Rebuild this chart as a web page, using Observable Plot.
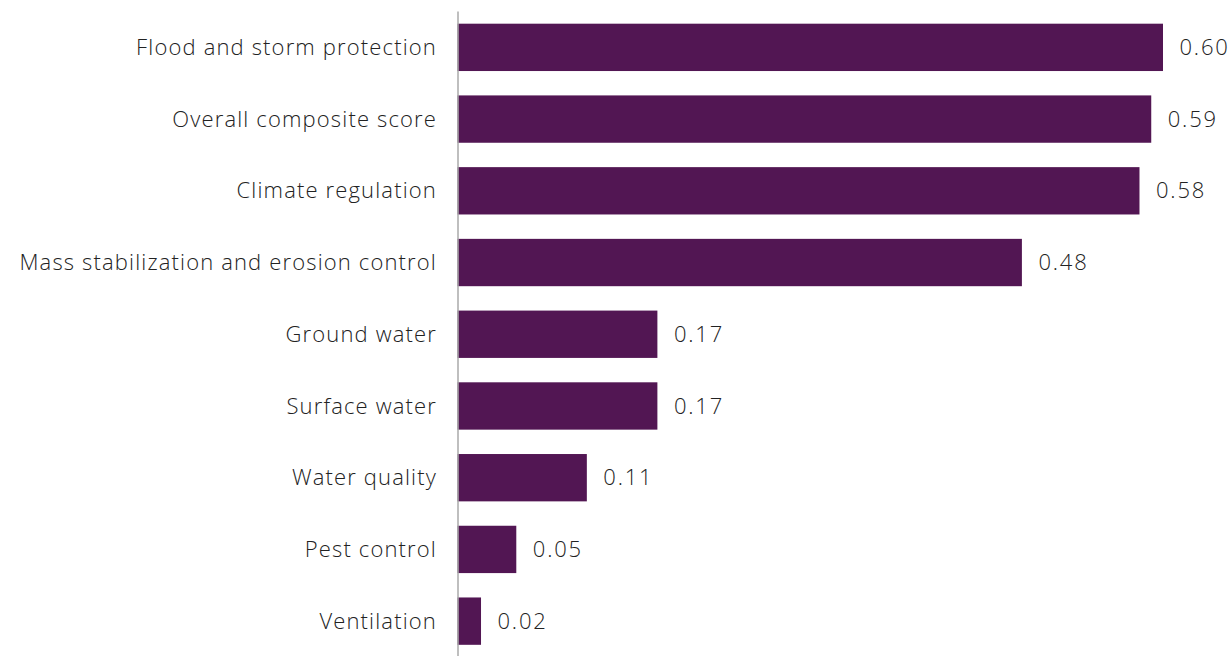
<!DOCTYPE html>
<html>
<head>
<meta charset="utf-8">
<script src="https://cdn.jsdelivr.net/npm/d3@7"></script>
<script src="https://cdn.jsdelivr.net/npm/@observablehq/plot@0.6"></script>
<style>
  html, body { margin: 0; padding: 0; background: #fff; }
  svg { display: block; }
  svg text { letter-spacing: 1.15px; }
  svg text.vals { letter-spacing: 1.8px; }
</style>
</head>
<body>
<div id="chart"></div>
<script>
const categories = [
  "Flood and storm protection",
  "Overall composite score",
  "Climate regulation",
  "Mass stabilization and erosion control",
  "Ground water",
  "Surface water",
  "Water quality",
  "Pest control",
  "Ventilation"
];
const values = [0.60, 0.59, 0.58, 0.48, 0.17, 0.17, 0.11, 0.05, 0.02];
const valueLabels = ["0.60", "0.59", "0.58", "0.48", "0.17", "0.17", "0.11", "0.05", "0.02"];

const data = categories.map((c, i) => ({category: c, value: values[i], label: valueLabels[i]}));

const FONT = "'Open Sans', sans-serif";
const chart = Plot.plot({
  width: 1229,
  height: 656,
  marginLeft: 457.5,
  marginRight: 66,
  marginTop: 11.5,
  marginBottom: -1,
  style: {fontFamily: FONT, fontWeight: 300, fontSize: "22px", color: "#222", background: "#fff", overflow: "visible"},
  x: {domain: [0, 0.6], axis: null},
  y: {domain: categories, paddingInner: 0.34, paddingOuter: 0.17, round: false, label: null},
  marks: [
    Plot.barX(data, {x: "value", y: "category", fill: "#521653"}),
    Plot.ruleX([0], {stroke: "#aaa", strokeWidth: 1.5}),
    Plot.text(data, {x: "value", y: "category", text: "label", textAnchor: "start", dx: 16, fill: "#222", fontSize: 22, fontWeight: 300, className: "vals"}),
    Plot.axisY({tickSize: 0, tickPadding: 21, fontSize: 22, fontWeight: 300, fill: "#222", label: null})
  ]
});
chart.querySelectorAll(".vals text").forEach(t => t.classList.add("vals"));
document.getElementById("chart").append(chart);
</script>
</body>
</html>
